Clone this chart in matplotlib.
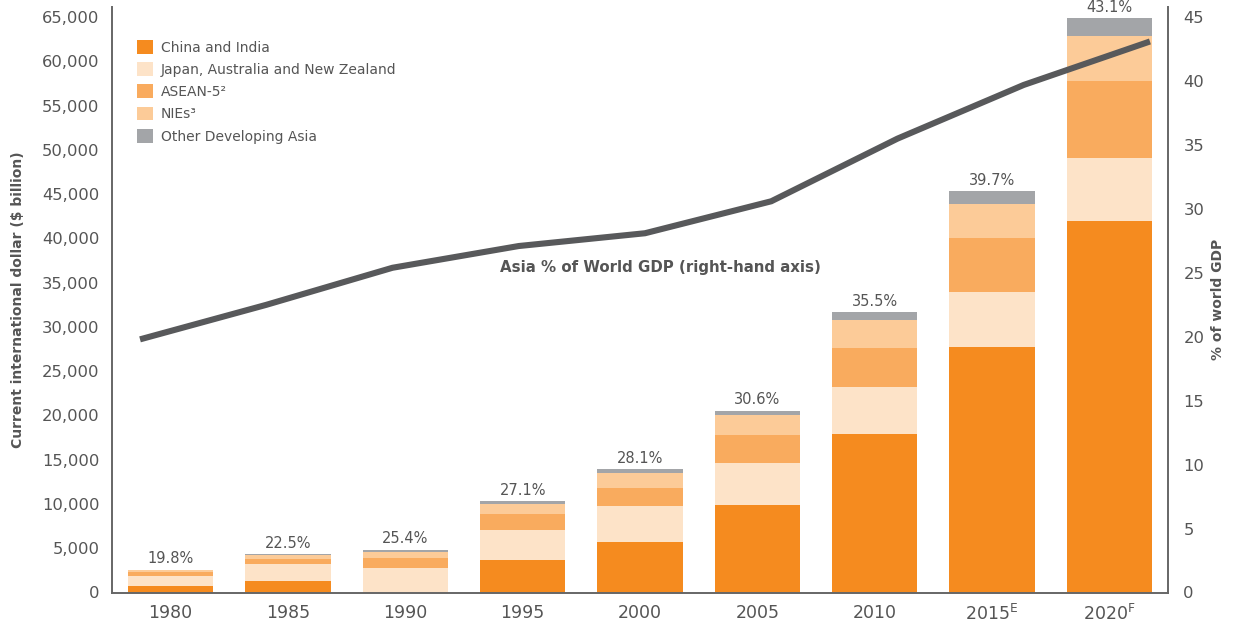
import matplotlib
matplotlib.use("Agg")
import matplotlib.pyplot as plt
from matplotlib.patches import Patch
import numpy as np

years = ["1980", "1985", "1990", "1995", "2000", "2005", "2010",
         "2015$^\\mathregular{E}$", "2020$^\\mathregular{F}$"]
china_india = [730, 1300, 0, 3670, 5760, 9830, 17900, 27740, 41980]
japan_aus_nz = [1130, 1920, 2770, 3390, 3960, 4750, 5310, 6210, 7120]
asean5 = [450, 560, 1130, 1810, 2140, 3160, 4410, 6100, 8700]
nies = [230, 450, 680, 1130, 1590, 2260, 3160, 3840, 5080]
other_dev_asia = [50, 110, 230, 340, 450, 560, 900, 1470, 2030]
asia_share = [19.8, 22.5, 25.4, 27.1, 28.1, 30.6, 35.5, 39.7, 43.1]

series_names = ["China and India", "Japan, Australia and New Zealand",
                "ASEAN-5\u00b2", "NIEs\u00b3", "Other Developing Asia"]
series = [china_india, japan_aus_nz, asean5, nies, other_dev_asia]
colors = ["#F58B1F", "#FDE3C8", "#F9AB5E", "#FCCB98", "#A3A5A8"]

txt = "#555555"
spine_c = "#666666"

fig = plt.figure(figsize=(12.35, 6.25), dpi=100)
ax = fig.add_axes([112/1235, 32.5/625, 1056/1235, 585.5/625])

x = np.arange(len(years))
bottom = np.zeros(len(years))
for vals, c in zip(series, colors):
    ax.bar(x, vals, width=0.725, bottom=bottom, color=c, linewidth=0, zorder=2)
    bottom += np.array(vals)

for xi, tot, pct in zip(x, bottom, asia_share):
    ax.annotate(f"{pct:.1f}%", (xi, tot), xytext=(0, 2.5), textcoords="offset points",
                ha="center", va="bottom", fontsize=10.5, color=txt)

ymax = 66150
ax.set_xlim(-0.5, 8.5)
ax.set_ylim(0, ymax)
ax.set_yticks(np.arange(0, 65001, 5000))
ax.set_yticklabels([f"{v:,}" for v in range(0, 65001, 5000)])
ax.set_xticks(x)
ax.set_xticklabels(years)
ax.tick_params(axis="y", length=0, pad=9, labelsize=11.8, labelcolor=txt)
ax.tick_params(axis="x", length=0, pad=8, labelsize=12.5, labelcolor=txt)
for s in ["top", "right"]:
    ax.spines[s].set_visible(False)
for s in ["left", "bottom"]:
    ax.spines[s].set_color(spine_c)
    ax.spines[s].set_linewidth(1.4)
ax.set_ylabel("Current international dollar ($ billion)", fontsize=10,
              fontweight="bold", color=txt, labelpad=12)

ax.text(2.81, 36700, "Asia % of World GDP (right-hand axis)", fontsize=10.8,
        fontweight="bold", color=txt, ha="left", va="center", zorder=5)

ax2 = ax.twinx()
ax2.set_ylim(0, 45 * ymax / 65000)
ax2.set_yticks(np.arange(0, 46, 5))
ax2.tick_params(axis="y", length=0, pad=11, labelsize=11.8, labelcolor=txt)
for s in ["top", "left", "bottom"]:
    ax2.spines[s].set_visible(False)
ax2.spines["right"].set_color(spine_c)
ax2.spines["right"].set_linewidth(1.4)
ax2.set_ylabel("% of world GDP", fontsize=10, fontweight="bold", color=txt, labelpad=5)

ax3 = ax2.twiny()
ax3.set_xlim(-0.222, 8.143)
ax3.set_xticks([])
for s in ax3.spines.values():
    s.set_visible(False)
ax3.plot(x, asia_share, color="#58595B", linewidth=4.4, solid_capstyle="butt",
         solid_joinstyle="miter", zorder=4)

handles = [Patch(facecolor=c, edgecolor="none") for c in colors]
leg = ax3.legend(handles, series_names, loc="upper left",
                 bbox_to_anchor=(137/1235, 1 - 40/625), bbox_transform=fig.transFigure,
                 frameon=False, fontsize=10, handlelength=1.15, handleheight=1.15,
                 handletextpad=0.55, labelspacing=0.55, borderaxespad=0, borderpad=0)
for t in leg.get_texts():
    t.set_color(txt)

fig.savefig("out.png", dpi=100)
